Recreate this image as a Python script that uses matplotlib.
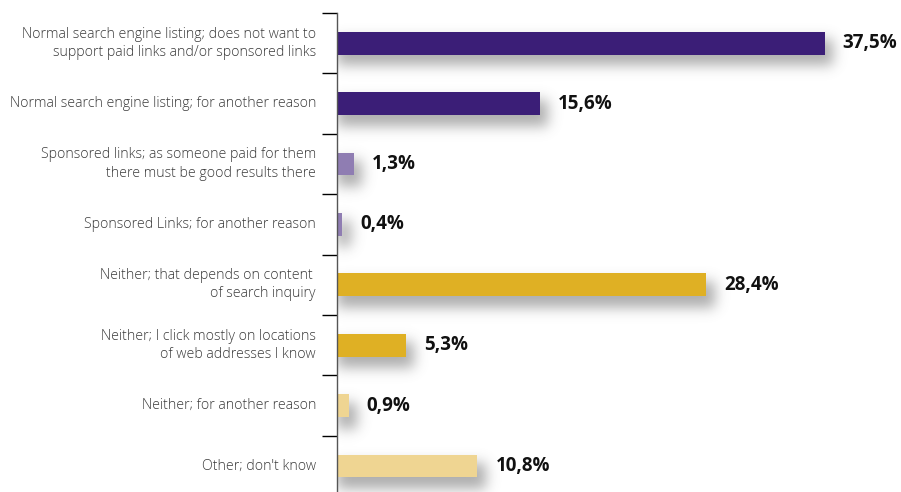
import matplotlib
matplotlib.use('Agg')
import matplotlib.pyplot as plt
import matplotlib.transforms as mtransforms
import numpy as np

labels = [
    'Normal search engine listing; does not want to\nsupport paid links and/or sponsored links',
    'Normal search engine listing; for another reason',
    'Sponsored links; as someone paid for them\nthere must be good results there',
    'Sponsored Links; for another reason',
    'Neither; that depends on content \nof search inquiry',
    'Neither; I click mostly on locations\nof web addresses I know',
    'Neither; for another reason',
    "Other; don't know",
]
values = [37.5, 15.6, 1.3, 0.4, 28.4, 5.3, 0.9, 10.8]
colors = ['#3b1e77', '#3b1e77', '#8f7db2', '#8f7db2',
          '#dfb024', '#dfb024', '#efd592', '#efd592']

W, H, DPI = 901, 492, 100
fig = plt.figure(figsize=(W / DPI, H / DPI), dpi=DPI)
# axis top at y=13px, category bands 60.4px tall
band = 60.4
top_px, left_px = 13, 337
bottom_px = top_px + band * len(values)
ax = fig.add_axes([left_px / W, 1 - bottom_px / H, (W - left_px) / W, (bottom_px - top_px) / H])

px_per_unit = 13.0
xmax = (W - left_px) / px_per_unit
ax.set_xlim(0, xmax)
ax.set_ylim(len(values) - 0.5, -0.5)

y = np.arange(len(values))
bar_h = 0.38

# soft drop shadow under each bar, blurred in pixel space
gh, gw = int(round(bottom_px - top_px)), W - left_px
grid = np.zeros((gh, gw))
for i, v in enumerate(values):
    cy = (i + 0.5) * band
    y0 = int(cy - bar_h * band / 2 + 9)
    y1 = int(cy + bar_h * band / 2 + 12)
    x1 = int(v * px_per_unit + 9)
    grid[max(y0, 0):min(y1, gh), 0:min(x1, gw)] = 1.0
sig = 6.5
k = np.arange(-22, 23)
kern = np.exp(-k ** 2 / (2 * sig ** 2))
kern /= kern.sum()
grid = np.apply_along_axis(lambda r: np.convolve(r, kern, mode='same'), 1, grid)
grid = np.apply_along_axis(lambda c: np.convolve(c, kern, mode='same'), 0, grid)
shadow = np.zeros((gh, gw, 4))
shadow[..., :3] = 0.42
shadow[..., 3] = grid * 0.55
ax.imshow(shadow, extent=(0, gw / px_per_unit, len(values) - 0.5, -0.5),
          aspect='auto', interpolation='bilinear', zorder=1)

ax.barh(y, values, height=bar_h, color=colors, zorder=2)

ax.set_xlim(0, xmax)
ax.set_ylim(len(values) - 0.5, -0.5)

for s in ['top', 'right', 'bottom']:
    ax.spines[s].set_visible(False)
ax.spines['left'].set_color('#555555')
ax.spines['left'].set_linewidth(1.0)
ax.set_xticks([])
ax.set_yticks(np.arange(len(values)) - 0.5)
ax.set_yticklabels([])
ax.tick_params(axis='y', length=10.8, width=1.0, color='black')
ax.get_yticklines()[0].set_color('#999999')

lab_off = mtransforms.offset_copy(ax.transData, fig=fig, x=-21, y=0, units='dots')
for i, lab in enumerate(labels):
    ax.text(0, i, lab, transform=lab_off, ha='right', va='center',
            fontsize=10.2, family='Open Sans', fontweight='light',
            color='#3a3a3a', linespacing=1.3)

val_off = mtransforms.offset_copy(ax.transData, fig=fig, x=18, y=0, units='dots')
for i, v in enumerate(values):
    ax.text(v, i, ('%.1f%%' % v).replace('.', ','), transform=val_off,
            ha='left', va='center', fontsize=13.5, family='Open Sans',
            fontweight='bold', color='#111111')

fig.savefig('out.png', dpi=DPI)
